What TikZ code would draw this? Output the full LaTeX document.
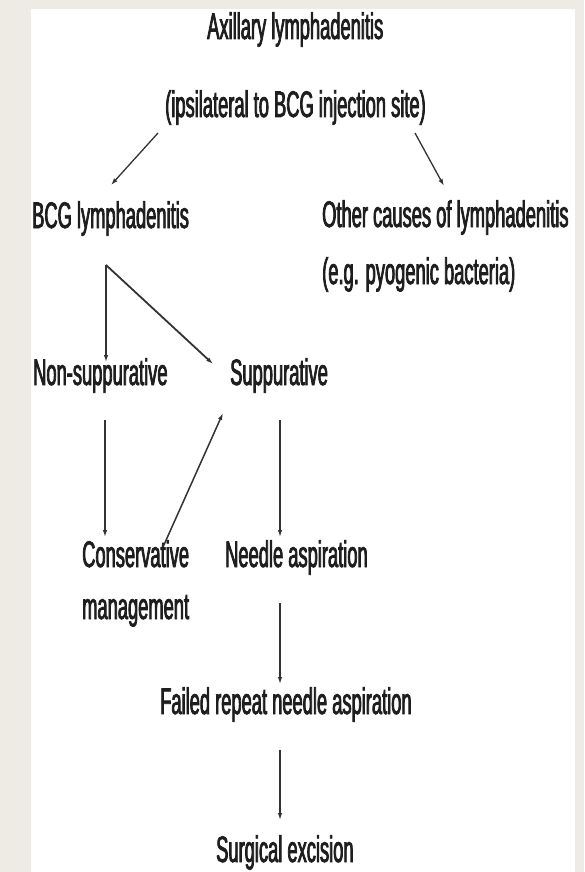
\documentclass[tikz,border=0pt]{standalone}
\usepackage{fontspec}
\setmainfont{Liberation Sans}[FakeStretch=0.495,FakeBold=2]
\usetikzlibrary{arrows.meta}
\definecolor{bgbeige}{HTML}{EEEBE4}
\definecolor{txt}{HTML}{1E1E1E}
\definecolor{ln}{HTML}{333333}
\begin{document}
\begin{tikzpicture}[x=1pt,y=-1pt,
  lbl/.style={anchor=base west,inner sep=0pt,text=txt,font=\fontsize{37}{52}\selectfont},
  arr/.style={draw=ln,line width=1.3pt,-{Latex[length=7pt,width=4.5pt]}},
  thk/.style={line width=1.8pt}]
\useasboundingbox (0,0) rectangle (584,872);
\fill[bgbeige] (0,0) rectangle (584,872);
\fill[white] (31,9) rectangle (575,872);
% nodes
\node[lbl] (ax)   at (207,39)  {Axillary lymphadenitis};
\node[lbl] (ips)  at (165,117) {(ipsilateral to BCG injection site)};
\node[lbl] (bcg)  at (32,228)  {BCG lymphadenitis};
\node[lbl,align=left,font=\fontsize{37}{57}\selectfont] (oth) at (322,284) {Other causes of lymphadenitis\\(e.g. pyogenic bacteria)};
\node[lbl] (non)  at (33,385)  {Non-suppurative};
\node[lbl] (sup)  at (230,385) {Suppurative};
\node[lbl,align=left,font=\fontsize{37}{52}\selectfont] (con) at (82,619) {Conservative\\management};
\node[lbl] (ned)  at (225,567) {Needle aspiration};
\node[lbl] (fail) at (160,714) {Failed repeat needle aspiration};
\node[lbl] (surg) at (216,862) {Surgical excision};
% connector end points
\coordinate (ipsL) at (158,133);
\coordinate (bcgT) at (111,185);
\coordinate (ipsR) at (415,133);
\coordinate (othT) at (444,186);
\coordinate (bcgB) at (106,265);
\coordinate (nonT) at (106,362);
\coordinate (supT) at (213,364);
\coordinate (nonB) at (105,420);
\coordinate (conT) at (105,537);
\coordinate (conR) at (163,547);
\coordinate (supB) at (223,413);
\coordinate (supD) at (280,420);
\coordinate (nedT) at (280,537);
\coordinate (nedB) at (280,603);
\coordinate (failT) at (280,684);
\coordinate (failB) at (280,750);
\coordinate (surgT) at (280,820);
% connectors
\draw[arr] (ipsL) -- (bcgT);
\draw[arr] (ipsR) -- (othT);
\draw[arr] (bcgB) -- (nonT);
\draw[arr,thk] (bcgB) -- (supT);
\draw[arr] (nonB) -- (conT);
\draw[arr,line width=1.5pt] (conR) -- (supB);
\draw[arr] (supD) -- (nedT);
\draw[arr] (nedB) -- (failT);
\draw[arr] (failB) -- (surgT);
\end{tikzpicture}
\end{document}
